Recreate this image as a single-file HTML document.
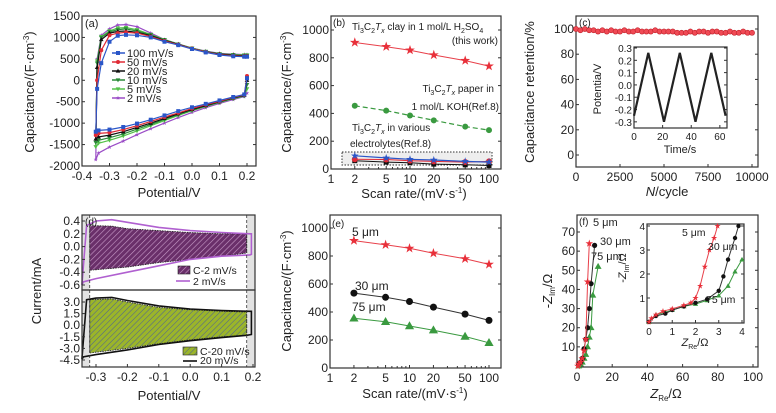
<!DOCTYPE html>
<html><head><meta charset="utf-8"><style>
html,body{margin:0;padding:0;background:#fff;}
svg{display:block;font-family:"Liberation Sans",Arial,sans-serif;}
</style></head><body>
<svg id="fig" width="776" height="413" viewBox="0 0 776 413" xmlns="http://www.w3.org/2000/svg">
<defs>
<pattern id="hatchP" patternUnits="userSpaceOnUse" width="4" height="4" patternTransform="rotate(45)"><rect width="4" height="4" fill="#6a2f6a"/><line x1="0" y1="0" x2="0" y2="4" stroke="#c79ac7" stroke-width="1.2"/></pattern>
<pattern id="hatchG" patternUnits="userSpaceOnUse" width="4" height="4" patternTransform="rotate(45)"><rect width="4" height="4" fill="#9bb52a"/><line x1="0" y1="0" x2="0" y2="4" stroke="#4a5d9a" stroke-width="1"/></pattern>
</defs>
</svg>
<script>
// ---------- DATA ----------
// (a) CV
const cvRates=['100 mV/s','50 mV/s','20 mV/s','10 mV/s','5 mV/s','2 mV/s'];
const cvColors=['#2a56c8','#e02a35','#111111','#2b8a38','#55c24a','#9a4cc6'];
const cvLowX=[0.2,0.19,0.15,0.1,0.05,0,-0.05,-0.1,-0.15,-0.2,-0.25,-0.3,-0.34,-0.35];
const cvLow100=[50,-330,-390,-470,-550,-630,-720,-820,-920,-1010,-1090,-1150,-1170,-1200];
const cvLow50=[100,-340,-400,-490,-570,-660,-760,-860,-960,-1060,-1150,-1220,-1240,-1280];
const cvLow20=[0,-350,-410,-500,-590,-680,-780,-890,-1000,-1100,-1200,-1280,-1320,-1370];
const cvLow10=[-100,-360,-420,-510,-600,-700,-800,-910,-1030,-1140,-1250,-1340,-1400,-1450];
const cvLow5=[-200,-370,-430,-520,-610,-710,-820,-940,-1060,-1180,-1300,-1400,-1470,-1550];
const cvLow2=[-300,-380,-450,-540,-640,-750,-870,-1000,-1130,-1270,-1420,-1560,-1700,-1850];
const cvUpX=[-0.345,-0.33,-0.3,-0.27,-0.24,-0.2,-0.15,-0.1,-0.05,0,0.05,0.1,0.15,0.19,0.2];
const cvUp100=[-200,400,900,1040,1060,1050,1000,900,820,730,650,590,560,550,550];
const cvUp50=[0,700,1050,1100,1120,1100,1020,920,830,740,660,600,570,560,560];
const cvUp20=[300,950,1100,1140,1150,1120,1040,930,840,740,665,610,580,570,570];
const cvUp10=[400,1000,1130,1180,1200,1150,1060,940,840,745,670,615,590,580,580];
const cvUp5=[450,1020,1150,1220,1230,1180,1070,950,845,750,675,620,600,590,590];
const cvUp2=[500,1050,1200,1290,1300,1250,1100,950,850,750,680,630,610,600,600];
// (b)
const rates=[2,5,10,20,50,100];
const bClay=[910,880,855,820,780,740];
const bPaper=[455,420,385,350,305,280];
const bBlue=[95,80,70,65,55,50];
const bRed=[70,68,60,55,50,55];
const bBlack=[60,50,45,35,30,25];
// (c)
const cCycles=[0,250,500,750,1000,1250,1500,1750,2000,2250,2500,2750,3000,3250,3500,3750,4000,4250,4500,4750,5000,5250,5500,5750,6000,6250,6500,6750,7000,7250,7500,7750,8000,8250,8500,8750,9000,9250,9500,9750,10000];
const cRet=[100,99,100,99,99,98,99,98,99,98,98,99,98,98,99,98,98,98,99,98,98,98,98,97,97,97,98,97,98,98,97,98,98,97,97,98,97,97,98,97,97];
const cT=[0,10,21,32,43,54,64];
const cV=[-0.25,0.26,-0.3,0.26,-0.3,0.26,-0.25];
// (d)
const dTopUpX=[-0.345,-0.33,-0.3,-0.25,-0.2,-0.1,0,0.1,0.19,0.195];
const dTopUp=[-0.6,0.33,0.4,0.42,0.38,0.3,0.25,0.22,0.2,0.2];
const dTopLoX=[0.195,0.19,0.1,0,-0.1,-0.2,-0.3,-0.34,-0.345];
const dTopLo=[-0.12,-0.13,-0.15,-0.2,-0.3,-0.4,-0.5,-0.55,-0.6];
const dCTopUpX=[-0.32,-0.25,-0.2,-0.1,0,0.1,0.18];
const dCTopUp=[0.33,0.32,0.28,0.25,0.22,0.2,0.2];
const dCTopLoX=[0.18,0.1,0,-0.1,-0.2,-0.32];
const dCTopLo=[-0.1,-0.15,-0.2,-0.25,-0.32,-0.37];
const dBotUpX=[-0.345,-0.33,-0.3,-0.25,-0.2,-0.1,0,0.1,0.19,0.195];
const dBotUp=[-4.4,3.3,3.5,3.6,3.2,2.5,2.1,1.9,1.8,1.8];
const dBotLoX=[0.195,0.18,0.1,0,-0.1,-0.2,-0.3,-0.34,-0.345];
const dBotLo=[-1.2,-1.3,-1.6,-2.0,-2.5,-3.2,-3.8,-4.1,-4.4];
const dCBotUpX=[-0.32,-0.25,-0.2,-0.1,0,0.1,0.18];
const dCBotUp=[3.3,3.4,3.0,2.3,2.0,1.8,1.7];
const dCBotLoX=[0.18,0.1,0,-0.1,-0.2,-0.3,-0.32];
const dCBotLo=[-1.3,-1.5,-1.9,-2.4,-3.0,-3.5,-3.6];
// (e)
const e5=[910,880,855,820,780,740];
const e30=[535,505,475,435,385,340];
const e75=[355,330,300,270,225,180];
// (f)
const f5Re=[0.5,1,2,3,4,5,6,7], f5Im=[0,1,2,4,8,14,44,64];
const f30Re=[1,2,3,4,5,6,7,8,10], f30Im=[1,2,4,9,14,20,30,43,63];
const f75Re=[1,2,3,4,5,6,7,8,9,12], f75Im=[0,1,2,4,6,10,15,20,37,52];
const fi5Re=[0,0.1,0.3,0.6,1,1.5,1.8,2,2.2,2.4,2.6,2.8,2.95], fi5Im=[0,0.15,0.3,0.45,0.55,0.7,0.8,1.0,1.5,2.3,3.0,3.5,4];
const fi30Re=[0,0.3,0.7,1,1.5,2,2.5,3,3.2,3.4,3.7,3.85], fi30Im=[0,0.25,0.35,0.5,0.65,0.8,0.95,1.3,1.9,2.6,3.5,4];
const fi75Re=[0,0.3,0.7,1,1.5,2,2.5,3,3.4,3.7,4], fi75Im=[0,0.3,0.4,0.5,0.65,0.75,0.9,1.1,1.5,2.1,2.6];

// ---------- HELPERS ----------
const NS='http://www.w3.org/2000/svg';
const svg=document.getElementById('fig');
function mk(tag,attrs,parent,text){const e=document.createElementNS(NS,tag);for(const k in attrs)e.setAttribute(k,attrs[k]);if(text!==undefined)e.textContent=text;(parent||svg).appendChild(e);return e;}
function lin(d0,d1,p0,p1){return v=>p0+(v-d0)*(p1-p0)/(d1-d0);}
function logs(d0,d1,p0,p1){return v=>p0+(Math.log10(v)-Math.log10(d0))*(p1-p0)/(Math.log10(d1)-Math.log10(d0));}
function group(name){const g=mk('g',{});return g;}
function frame(g,x0,y0,x1,y1){const r=mk('rect',{x:x0,y:y0,width:x1-x0,height:y1-y0,fill:'none',stroke:'#333','stroke-width':1.2},g);}
function txt(g,x,y,s,size,anchor,name,extra){const t=mk('text',Object.assign({x:x,y:y,'font-size':size,'text-anchor':anchor||'start',fill:'#222'},extra||{}),g);t.innerHTML=s;return t;}
function yTicks(g,sy,vals,x0,x1,fs,lbl){vals.forEach((v,i)=>{const y=sy(v);mk('line',{x1:x0,y1:y,x2:x0+3,y2:y,stroke:'#333'},g);if(x1)mk('line',{x1:x1,y1:y,x2:x1-3,y2:y,stroke:'#333'},g);txt(g,x0-2,y+4,lbl?lbl[i]:String(v),fs,'end','y-tick-label');});}
function xTicks(g,sx,vals,y0,fs,lbl){vals.forEach((v,i)=>{const x=sx(v);mk('line',{x1:x,y1:y0,x2:x,y2:y0-3,stroke:'#333'},g);txt(g,x,y0+fs+2,lbl?lbl[i]:String(v),fs,'middle','x-tick-label');});}
function marker(g,type,x,y,c,s){s=s||3;let e;
 if(type==='circle')e=mk('circle',{cx:x,cy:y,r:s,fill:c},g);
 else if(type==='square')e=mk('rect',{x:x-s,y:y-s,width:2*s,height:2*s,fill:c},g);
 else if(type==='tri')e=mk('polygon',{points:`${x},${y-s*1.2} ${x-s*1.15},${y+s*0.8} ${x+s*1.15},${y+s*0.8}`,fill:c},g);
 else if(type==='dtri')e=mk('polygon',{points:`${x},${y+s*1.2} ${x-s*1.15},${y-s*0.8} ${x+s*1.15},${y-s*0.8}`,fill:c},g);
 else if(type==='star'){let p=[];for(let i=0;i<10;i++){const r=i%2?s*0.45:s*1.15;const a=-Math.PI/2+i*Math.PI/5;p.push((x+r*Math.cos(a)).toFixed(1)+','+(y+r*Math.sin(a)).toFixed(1));}e=mk('polygon',{points:p.join(' '),fill:c},g);}
 return e;}
function path(g,xs,ys,sx,sy,c,w,dash,name){const d=xs.map((v,i)=>(i?'L':'M')+sx(v).toFixed(1)+','+sy(ys[i]).toFixed(1)).join('');const p=mk('path',{d:d,fill:'none',stroke:c,'stroke-width':w||1.2},g);if(dash)p.setAttribute('stroke-dasharray',dash);return p;}
const TI='Ti<tspan font-size="7" dy="3">3</tspan><tspan dy="-3">C</tspan><tspan font-size="7" dy="3">2</tspan><tspan dy="-3" font-style="italic">T</tspan><tspan font-size="7" dy="3" font-style="italic">x</tspan><tspan dy="-3">';

// ---------- PANEL A ----------
(function(){const g=group('panel-a');
 const sx=lin(-0.4,0.2,82,247), sy=lin(-2000,1500,166,16);
 frame(g,82,16,256,166);
 yTicks(g,sy,[1500,1000,500,0,-500,-1000,-1500,-2000],82,256,12);
 xTicks(g,sx,[-0.4,-0.3,-0.2,-0.1,0,0.1,0.2],166,12,['-0.4','-0.3','-0.2','-0.1','0.0','0.1','0.2']);
 const ups=[cvUp100,cvUp50,cvUp20,cvUp10,cvUp5,cvUp2], lows=[cvLow100,cvLow50,cvLow20,cvLow10,cvLow5,cvLow2];
 const mks=['square','circle','tri','dtri','dtri','star'];
 for(let k=5;k>=0;k--){const xs=cvLowX.concat(cvUpX), ys=lows[k].concat(ups[k]);
  const s=group('cv-'+cvRates[k].replace(/[ \/]/g,''));g.appendChild(s);
  path(s,xs,ys,sx,sy,cvColors[k],1.2,null,'cv-curve');
  xs.forEach((x,i)=>marker(s,mks[k],sx(x),sy(ys[i]),cvColors[k],2));}
 txt(g,85,27,'(a)',11,'start','panel-label');
 cvRates.forEach((r,i)=>{const y=53+i*9;const l=mk('line',{x1:112,y1:y,x2:125,y2:y,stroke:cvColors[i],'stroke-width':1.5},g);marker(g,mks[i],118,y,cvColors[i],2);txt(g,127,y+4,r,11,'start','legend-entry');});
 txt(g,0,0,'Capacitance/(F·cm<tspan font-size="8" dy="-5">-3</tspan><tspan dy="5">)</tspan>',13,'middle','y-axis-title',{transform:'translate(34,92) rotate(-90)'});
 txt(g,169,197,'Potential/V',13,'middle','x-axis-title');
})();

// ---------- PANEL B ----------
(function(){const g=group('panel-b');
 const sx=logs(1,100,331,489), sy=lin(0,1000,169,30);
 frame(g,331,16,501,169);
 yTicks(g,sy,[0,200,400,600,800,1000],331,501,12);
 xTicks(g,sx,[1,2,5,10,20,50,100],169,12);
 [3,4,6,7,8,9,30,40,60,70,80,90].forEach(v=>mk('line',{x1:sx(v),y1:169,x2:sx(v),y2:167,stroke:'#333'},g));
 const box=mk('rect',{x:342,y:152,width:150,height:13,fill:'#eee',stroke:'#333','stroke-dasharray':'1.5,1.5'},g);
 path(g,rates,bClay,sx,sy,'#e8404a',1);rates.forEach((r,i)=>marker(g,'star',sx(r),sy(bClay[i]),'#e8303a',4.5));
 path(g,rates,bPaper,sx,sy,'#3a9a40',1.2,'5,3');rates.forEach((r,i)=>marker(g,'circle',sx(r),sy(bPaper[i]),'#3a9a40',3));
 path(g,rates,bBlack,sx,sy,'#111',1);rates.forEach((r,i)=>marker(g,'square',sx(r),sy(bBlack[i]),'#111',2.5));
 path(g,rates,bRed,sx,sy,'#e02a35',1);rates.forEach((r,i)=>marker(g,'circle',sx(r),sy(bRed[i]),'#e02a35',3));
 path(g,rates,bBlue,sx,sy,'#2a56c8',1.2);rates.forEach((r,i)=>marker(g,'star',sx(r),sy(bBlue[i]),'#2a56c8',3.5));
 txt(g,333,26,'(b)',10,'start','panel-label');
 txt(g,352,30,TI+' clay in 1 mol/L H</tspan><tspan font-size="7" dy="3">2</tspan><tspan dy="-3">SO</tspan><tspan font-size="7" dy="3">4</tspan>',10,'start','annotation-clay');
 txt(g,498,44,'(this work)',10,'end','annotation-clay-2');
 txt(g,494,92,TI+' paper in</tspan>',10,'end','annotation-paper');
 txt(g,499,110,'1 mol/L KOH(Ref.8)',10,'end','annotation-paper-2');
 txt(g,352,131,TI+' in various</tspan>',10,'start','annotation-various');
 txt(g,350,147,'electrolytes(Ref.8)',10,'start','annotation-various-2');
 txt(g,0,0,'Capacitance/(F·cm<tspan font-size="8" dy="-5">-3</tspan><tspan dy="5">)</tspan>',13,'middle','y-axis-title',{transform:'translate(291,92) rotate(-90)'});
 txt(g,414,198,'Scan rate/(mV·s<tspan font-size="8" dy="-5">-1</tspan><tspan dy="5">)</tspan>',13,'middle','x-axis-title');
})();

// ---------- PANEL C ----------
(function(){const g=group('panel-c');
 const sx=lin(0,10000,576,752), sy=lin(0,100,155,29);
 frame(g,576,16,758,167);
 yTicks(g,sy,[0,20,40,60,80,100],576,758,12);
 xTicks(g,sx,[0,2500,5000,7500,10000],167,12);
 cCycles.forEach((c,i)=>{const m=mk('circle',{cx:sx(c),cy:sy(cRet[i]),r:2.6,fill:'#f04a55',stroke:'#c0202a','stroke-width':0.6},g);});
 txt(g,579,26,'(c)',10,'start','panel-label');
 const ix=lin(0,65,634,727), iy=lin(-0.35,0.3,128,48);
 const ig=group('inset-c');g.appendChild(ig);
 mk('rect',{x:634,y:47,width:93,height:81,fill:'#fff'},ig);frame(ig,634,47,727,128);
 yTicks(ig,iy,[0.3,0.2,0.1,0,-0.1,-0.2,-0.3],634,727,10,['0.3','0.2','0.1','0.0','-0.1','-0.2','-0.3']);
 xTicks(ig,ix,[0,20,40,60],128,10);
 path(ig,cT,cV,ix,iy,'#222',2.2,null,'charge-discharge-line');
 txt(ig,0,0,'Potentia/V',11,'middle','inset-y-title',{transform:'translate(601,89) rotate(-90)'});
 txt(ig,680,153,'Time/s',11,'middle','inset-x-title');
 txt(g,0,0,'Capacitance retention/%',13,'middle','y-axis-title',{transform:'translate(534,92) rotate(-90)'});
 txt(g,667,196,'<tspan font-style="italic">N</tspan>/cycle',13,'middle','x-axis-title');
})();

// ---------- PANEL D ----------
(function(){const g=group('panel-d');
 const sx=lin(-0.3,0.2,96,253);
 const syT=lin(-0.6,0.4,285,221), syB=lin(-4.5,3.0,360,302);
 const gr1=mk('rect',{x:82,y:215,width:sx(-0.32)-82,height:152,fill:'#e2e2e2'},g);
 const gr2=mk('rect',{x:sx(0.18),y:215,width:255-sx(0.18),height:152,fill:'#e2e2e2'},g);
 function area(xsU,yU,xsL,yL,sy,fill,name){const d=xsU.map((v,i)=>(i?'L':'M')+sx(v)+','+sy(yU[i])).join('')+xsL.map((v,i)=>'L'+sx(v)+','+sy(yL[i])).join('')+'Z';const p=mk('path',{d:d,fill:fill,stroke:'#222','stroke-width':0.8,'stroke-dasharray':'1.5,1'},g);}
 mk('rect',{x:sx(-0.32),y:215,width:sx(0.18)-sx(-0.32),height:152,fill:'#fff'},g);
 area(dCTopUpX,dCTopUp,dCTopLoX,dCTopLo,syT,'url(#hatchP)','capacitive-area-2mv');
 area(dCBotUpX,dCBotUp,dCBotLoX,dCBotLo,syB,'url(#hatchG)','capacitive-area-20mv');
 path(g,dTopUpX.concat(dTopLoX),dTopUp.concat(dTopLo),sx,syT,'#b060d0',1.6,null,'cv-2mv');
 path(g,dBotUpX.concat(dBotLoX),dBotUp.concat(dBotLo),sx,syB,'#111',1.6,null,'cv-20mv');
 [-0.32,0.18].forEach(v=>mk('line',{x1:sx(v),y1:215,x2:sx(v),y2:367,stroke:'#333','stroke-dasharray':'3,2','stroke-width':0.8},g));
 frame(g,82,215,255,290);frame(g,82,290,255,367);
 yTicks(g,syT,[0.4,0.2,0,-0.2,-0.4,-0.6],82,0,12,['0.4','0.2','0.0','-0.2','-0.4','-0.6']);
 yTicks(g,syB,[3,1.5,0,-1.5,-3,-4.5],82,0,12,['3.0','1.5','0.0','-1.5','-3.0','-4.5']);
 xTicks(g,sx,[-0.3,-0.2,-0.1,0,0.1,0.2],367,12,['-0.3','-0.2','-0.1','0.0','0.1','0.2']);
 txt(g,85,225,'(d)',10,'start','panel-label');
 const l1=mk('rect',{x:178,y:266,width:12,height:8,fill:'url(#hatchP)',stroke:'#222','stroke-width':0.6},g);
 txt(g,193,274,'C-2 mV/s',10.5,'start','legend-entry');
 mk('line',{x1:176,y1:281,x2:190,y2:281,stroke:'#b060d0','stroke-width':1.6},g);
 txt(g,193,285,'2 mV/s',10.5,'start','legend-entry');
 mk('rect',{x:183,y:347,width:14,height:8,fill:'url(#hatchG)',stroke:'#222','stroke-width':0.6},g);
 txt(g,200,355,'C-20 mV/s',10.5,'start','legend-entry');
 mk('line',{x1:183,y1:361,x2:197,y2:361,stroke:'#111','stroke-width':1.6},g);
 txt(g,200,364,'20 mV/s',10.5,'start','legend-entry');
 txt(g,0,0,'Current/mA',13,'middle','y-axis-title',{transform:'translate(41,291) rotate(-90)'});
 txt(g,169,400,'Potential/V',13,'middle','x-axis-title');
})();

// ---------- PANEL E ----------
(function(){const g=group('panel-e');
 const sx=logs(1,100,330,489), sy=lin(0,1000,368,228);
 frame(g,330,215,501,368);
 yTicks(g,sy,[0,200,400,600,800,1000],330,501,12);
 xTicks(g,sx,[1,2,5,10,20,50,100],368,12);
 [3,4,6,7,8,9,30,40,60,70,80,90].forEach(v=>mk('line',{x1:sx(v),y1:368,x2:sx(v),y2:366,stroke:'#333'},g));
 path(g,rates,e5,sx,sy,'#e8404a',1);rates.forEach((r,i)=>marker(g,'star',sx(r),sy(e5[i]),'#e8303a',4.5));
 path(g,rates,e30,sx,sy,'#333',1);rates.forEach((r,i)=>marker(g,'circle',sx(r),sy(e30[i]),'#111',3.5));
 path(g,rates,e75,sx,sy,'#3a9a40',1);rates.forEach((r,i)=>marker(g,'tri',sx(r),sy(e75[i]),'#3a9a40',4));
 txt(g,332,227,'(e)',10,'start','panel-label');
 txt(g,352,236,'5 μm',12,'start','series-label');
 txt(g,355,290,'30 μm',12,'start','series-label');
 txt(g,352,311,'75 μm',12,'start','series-label');
 txt(g,0,0,'Capacitance/(F·cm<tspan font-size="8" dy="-5">-3</tspan><tspan dy="5">)</tspan>',13,'middle','y-axis-title',{transform:'translate(291,291) rotate(-90)'});
 txt(g,415,398,'Scan rate/(mV·s<tspan font-size="8" dy="-5">-1</tspan><tspan dy="5">)</tspan>',13,'middle','x-axis-title');
})();

// ---------- PANEL F ----------
(function(){const g=group('panel-f');
 const sx=lin(0,100,577,753), sy=lin(0,70,366,232);
 frame(g,577,215,758,367);
 yTicks(g,sy,[10,20,30,40,50,60,70],577,758,12);
 xTicks(g,sx,[0,20,40,60,80,100],367,12);
 path(g,f75Re,f75Im,sx,sy,'#3a9a40',1);f75Re.forEach((x,i)=>marker(g,'tri',sx(x),sy(f75Im[i]),'#3a9a40',3));
 path(g,f30Re,f30Im,sx,sy,'#333',1);f30Re.forEach((x,i)=>marker(g,'circle',sx(x),sy(f30Im[i]),'#111',2.6));
 path(g,f5Re,f5Im,sx,sy,'#e8404a',1);f5Re.forEach((x,i)=>marker(g,'star',sx(x),sy(f5Im[i]),'#e8303a',3.5));
 txt(g,579,225,'(f)',10,'start','panel-label');
 txt(g,593,226,'5 μm',11,'start','series-label');
 txt(g,600,245,'30 μm',11,'start','series-label');
 txt(g,591,260,'75 μm',11,'start','series-label');
 const ix=lin(0,4,649,742), iy=lin(0,4,322,226);
 const ig=group('inset-f');g.appendChild(ig);
 mk('rect',{x:647,y:224,width:97,height:99,fill:'#fff'},ig);frame(ig,647,224,744,323);
 yTicks(ig,iy,[1,2,3,4],647,744,10);
 xTicks(ig,ix,[0,1,2,3,4],323,10);
 path(ig,fi75Re,fi75Im,ix,iy,'#3a9a40',1);fi75Re.forEach((x,i)=>marker(ig,'tri',ix(x),iy(fi75Im[i]),'#3a9a40',2.3));
 path(ig,fi30Re,fi30Im,ix,iy,'#333',1);fi30Re.forEach((x,i)=>marker(ig,'circle',ix(x),iy(fi30Im[i]),'#111',2.2));
 path(ig,fi5Re,fi5Im,ix,iy,'#e8404a',1);fi5Re.forEach((x,i)=>marker(ig,'star',ix(x),iy(fi5Im[i]),'#e8303a',2.8));
 txt(ig,682,236,'5 μm',10.5,'start','series-label');
 txt(ig,708,250,'30 μm',10.5,'start','series-label');
 txt(ig,706,303,'75 μm',10.5,'start','series-label');
 txt(ig,0,0,'-<tspan font-style="italic">Z</tspan><tspan font-size="7" dy="3">Im</tspan><tspan dy="-3">/Ω</tspan>',11,'middle','inset-y-title',{transform:'translate(626,268) rotate(-90)'});
 txt(ig,695,346,'<tspan font-style="italic">Z</tspan><tspan font-size="7" dy="3">Re</tspan><tspan dy="-3">/Ω</tspan>',11,'middle','inset-x-title');
 txt(g,0,0,'-<tspan font-style="italic">Z</tspan><tspan font-size="8" dy="3">Im</tspan><tspan dy="-3">/Ω</tspan>',13,'middle','y-axis-title',{transform:'translate(552,291) rotate(-90)'});
 txt(g,666,398,'<tspan font-style="italic">Z</tspan><tspan font-size="8" dy="3">Re</tspan><tspan dy="-3">/Ω</tspan>',13,'middle','x-axis-title');
})();
</script>
</body></html>
